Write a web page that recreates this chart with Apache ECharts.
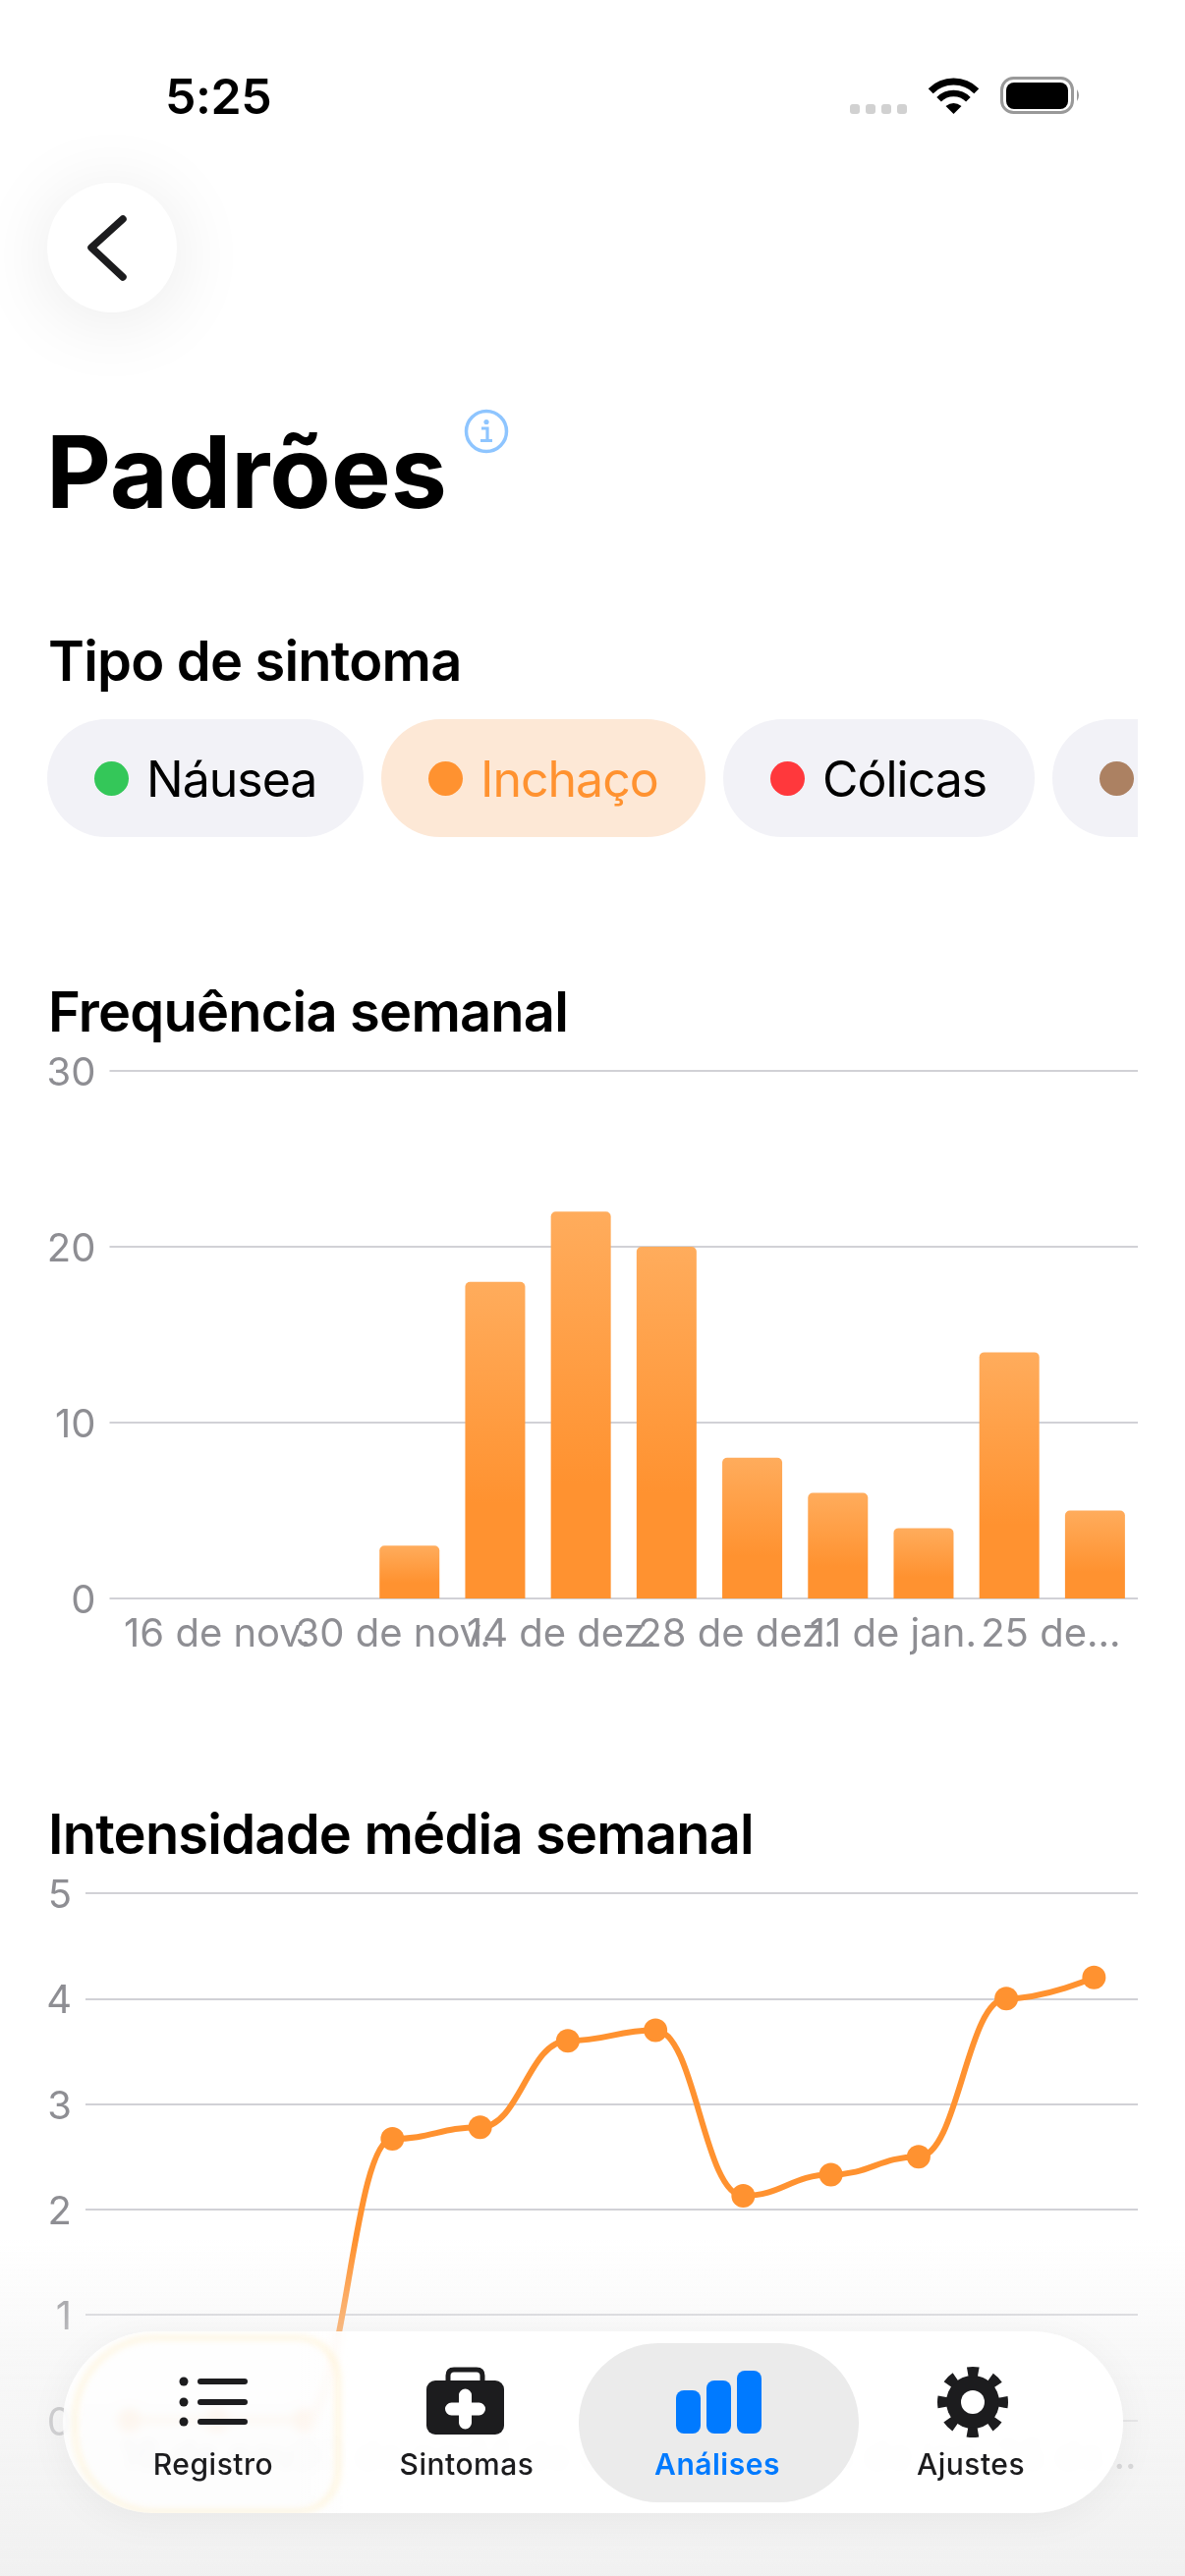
<!DOCTYPE html>
<html lang="pt">
<head>
<meta charset="utf-8">
<title>Padrões</title>
<script src="https://cdn.jsdelivr.net/npm/echarts@6/dist/echarts.min.js"></script>
<style>
	html,body{margin:0;padding:0;background:#fff;}
	body{position:relative;width:1206px;height:2622px;overflow:hidden;font-family:Inter,"Noto Sans",sans-serif;color:#000;}
	#chart{position:absolute;left:0;top:0;width:1206px;height:2622px;}
	.abs{position:absolute;white-space:nowrap;}
	.head{font-size:56px;line-height:60px;font-weight:600;left:49px;letter-spacing:-.8px;}
	.chips{position:absolute;left:48px;top:732px;width:1110px;height:120px;overflow:hidden;}
	.chip{position:absolute;top:0;height:120px;border-radius:60px;background:#f2f2f7;}
	.dot{position:absolute;top:43px;width:35px;height:35px;border-radius:50%;}
	.chip span{position:absolute;top:31px;font-size:50px;line-height:60px;letter-spacing:-1px;white-space:nowrap;}
	#fade{position:absolute;left:0;right:0;top:2280px;height:342px;background:linear-gradient(rgba(242,242,242,0),rgba(242,242,242,.55) 35%,rgba(240,240,240,.95));}
	#tabbar{position:absolute;left:64px;top:2373px;width:1079px;height:185px;border-radius:92px;background:linear-gradient(90deg,rgba(255,255,255,.8) 240px,rgba(255,255,255,.94) 290px);-webkit-backdrop-filter:blur(5px);backdrop-filter:blur(5px);box-shadow:0 6px 40px rgba(0,0,0,.05);overflow:hidden;}
	#halo{position:absolute;left:10px;top:4px;width:262px;height:172px;border:5px solid rgba(255,226,160,.32);border-right-width:6px;border-radius:84px 44px 44px 84px;filter:blur(3px);}
	#pill{position:absolute;left:525px;top:12px;width:285px;height:162px;border-radius:81px;background:#ebebeb;}
	.tab{position:absolute;top:118px;width:200px;text-align:center;font-size:30px;line-height:34px;font-weight:500;letter-spacing:.5px;color:#1c1c1e;}
</style>
</head>
<body>
<div id="chart"></div>

<!-- barra de status -->
<div class="abs" style="left:168px;top:68px;font-size:50px;line-height:60px;font-weight:600;letter-spacing:-.4px;">5:25</div>
<svg class="abs" style="left:860px;top:70px;" width="245" height="52" viewBox="860 70 245 52">
	<g fill="#d1d1d1">
		<rect x="865" y="106" width="10" height="10" rx="3"/><rect x="881" y="106" width="10" height="10" rx="3"/>
		<rect x="897" y="106" width="10" height="10" rx="3"/><rect x="913" y="106" width="10" height="10" rx="3"/>
	</g>
	<g transform="translate(945 79)">
		<path d="M2.2 13.7A33 33 0 0 1 48.8 13.7" fill="none" stroke="#000" stroke-width="7"/>
		<path d="M10.6 22.2A21 21 0 0 1 40.4 22.2" fill="none" stroke="#000" stroke-width="6.5"/>
		<path d="M25.5 37L17.5 29Q25.5 23 33.5 29Z" fill="#000"/>
	</g>
	<rect x="1019.5" y="79.5" width="72" height="35" rx="12" fill="none" stroke="#999" stroke-width="3"/>
	<rect x="1024" y="84" width="63" height="27" rx="8" fill="#000"/>
	<path d="M1096 91Q1100 97 1096 103Z" fill="#999"/>
</svg>

<!-- voltar -->
<div class="abs" style="left:48px;top:186px;width:132px;height:132px;border-radius:50%;background:#fff;box-shadow:0 8px 80px rgba(0,0,0,.09);"></div>
<svg class="abs" style="left:80px;top:210px;" width="60" height="84" viewBox="80 210 60 84">
	<path d="M125 223L93 252L125 282" fill="none" stroke="#1c1c1e" stroke-width="7.5" stroke-linecap="round" stroke-linejoin="round"/>
</svg>

<div class="abs" style="left:47px;top:429px;font-size:102px;line-height:102px;font-weight:700;">Padrões</div>
<svg class="abs" style="left:470px;top:414px;" width="50" height="50" viewBox="0 0 50 50">
	<circle cx="25" cy="25" r="20.5" fill="none" stroke="#8ec5ff" stroke-width="3.5"/>
	<circle cx="25" cy="15.5" r="2.6" fill="#8ec5ff"/>
	<path d="M20 22H26V34M19 34.5H31" fill="none" stroke="#8ec5ff" stroke-width="3.2"/>
</svg>

<div class="abs head" style="top:643px;">Tipo de sintoma</div>
<div class="chips">
	<div class="chip" style="left:0;width:322px;"><div class="dot" style="left:48px;background:#34c759;"></div><span style="left:101px;">Náusea</span></div>
	<div class="chip" style="left:340px;width:330px;background:#fde8d6;"><div class="dot" style="left:48px;background:#ff9230;"></div><span style="left:101px;color:#ff9230;">Inchaço</span></div>
	<div class="chip" style="left:688px;width:317px;"><div class="dot" style="left:48px;background:#ff383c;"></div><span style="left:101px;">Cólicas</span></div>
	<div class="chip" style="left:1023px;width:320px;"><div class="dot" style="left:48px;background:#ac8162;"></div></div>
</div>

<div class="abs head" style="top:1000px;">Frequência semanal</div>
<div class="abs head" style="top:1837px;">Intensidade média semanal</div>

<div id="fade"></div>

<!-- barra de abas -->
<div id="tabbar">
	<div id="halo"></div>
	<div id="pill"></div>
	<svg class="abs" style="left:0;top:0;" width="1079" height="185" viewBox="64 2373 1079 185">
		<g fill="#1c1c1e">
			<circle cx="187" cy="2424" r="4.5"/><circle cx="187" cy="2445" r="4.5"/><circle cx="187" cy="2465" r="4.5"/>
			<rect x="201" y="2421" width="51" height="6" rx="3"/><rect x="201" y="2442" width="51" height="6" rx="3"/><rect x="201" y="2462" width="51" height="6" rx="3"/>
			<path d="M456 2426V2418Q456 2412 462 2412H485Q491 2412 491 2418V2426" fill="none" stroke="#1c1c1e" stroke-width="5"/>
			<rect x="434" y="2423" width="79" height="55" rx="9"/>
		</g>
		<path d="M473.5 2438V2466M459.5 2452H487.5" stroke="#fff" stroke-width="13" stroke-linecap="round"/>
		<g fill="#007aff">
			<rect x="688" y="2433" width="25" height="44" rx="8"/><rect x="719" y="2423" width="25" height="54" rx="8"/><rect x="750" y="2413" width="25" height="64" rx="8"/>
		</g>
		<circle cx="990" cy="2445" r="27" fill="#1c1c1e"/>
		<circle cx="990" cy="2445" r="31" fill="none" stroke="#1c1c1e" stroke-width="10" stroke-dasharray="11 13.35" stroke-dashoffset="5.5"/>
		<circle cx="990" cy="2445" r="12" fill="#fff"/>
	</svg>
	<div class="tab" style="left:53px;">Registro</div>
	<div class="tab" style="left:311px;">Sintomas</div>
	<div class="tab" style="left:566px;color:#007aff;font-weight:600;">Análises</div>
	<div class="tab" style="left:824px;">Ajustes</div>
</div>

<script>
	//dados
	var weeks = ["16 de nov.", "23 de nov.", "30 de nov.", "7 de dez.", "14 de dez.", "21 de dez.", "28 de dez.", "4 de jan.", "11 de jan.", "18 de jan.", "25 de...", "1 de fev."];
	var freqValues = [0, 0, 0, 3, 18, 22, 20, 8, 6, 4, 14, 5];
	var intensityValues = [0, 0, 0, 2.67, 2.78, 3.6, 3.7, 2.13, 2.33, 2.5, 4.0, 4.2];

	var ORANGE = "#ff9230";
	var GRAY = "#8e8e93";
	var LINE = "#d1d1d6";

	function yAxis(grid, max, interval){
		return {
			type: "value", gridIndex: grid, min: 0, max: max, interval: interval,
			axisLine: {show: false}, axisTick: {show: false},
			//lineHeight baixo com verticalAlign top desce o texto até a linha da grade
			axisLabel: {color: GRAY, fontFamily: "Inter", fontSize: 40, margin: 14, align: "right", verticalAlign: "top", lineHeight: 6},
			splitLine: {lineStyle: {color: LINE, width: 2}}
		};
	}
	function xAxis(grid, shift){
		return {
			type: "category", gridIndex: grid, data: weeks,
			axisLine: {show: false}, axisTick: {show: false},
			axisLabel: {
				color: GRAY, fontFamily: "Inter", fontSize: 40, margin: 17, interval: 0, align: "left", padding: [0, 0, 0, shift],
				//uma semana sim, outra não; interval 0 para o eixo não esconder os rótulos sobrepostos
				formatter: function(value, idx){
					return idx % 2 ? "" : value;
				}
			},
			splitLine: {show: false}
		};
	}

	var chart = echarts.init(document.getElementById("chart"), null, {renderer: "canvas"});
	chart.setOption({
		animation: false,
		backgroundColor: "transparent",
		grid: [
			{left: 111.5, top: 1090, width: 1046.5, height: 537},
			{left: 87, top: 1927, width: 1071, height: 536.5}
		],
		xAxis: [xAxis(0, -29), xAxis(1, -10)],
		yAxis: [yAxis(0, 30, 10), yAxis(1, 5, 1)],
		series: [
			{
				type: "bar", xAxisIndex: 0, yAxisIndex: 0, data: freqValues, barWidth: 61,
				itemStyle: {
					borderRadius: [5, 5, 0, 0],
					color: new echarts.graphic.LinearGradient(0, 0, 0, 1, [
						{offset: 0, color: "#ffac5c"},
						{offset: 0.7, color: ORANGE},
						{offset: 1, color: ORANGE}
					])
				}
			},
			{
				type: "line", xAxisIndex: 1, yAxisIndex: 1, data: intensityValues,
				smooth: 0.45, smoothMonotone: "x",
				symbol: "circle", symbolSize: 24,
				lineStyle: {color: ORANGE, width: 6},
				itemStyle: {color: ORANGE}
			}
		]
	});
</script>
</body>
</html>
